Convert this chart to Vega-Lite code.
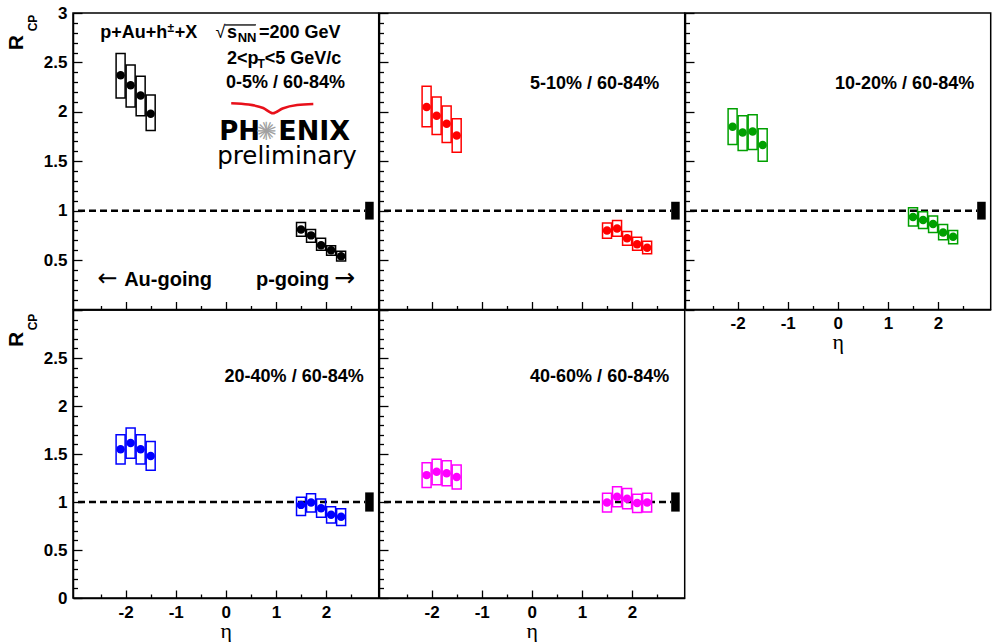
{
"$schema":"https://vega.github.io/schema/vega-lite/v6.json",
"background":"white",
"padding":{"left":5,"top":3,"right":0,"bottom":0},
"spacing":0,
"bounds":"flush",
"columns":3,
"datasets":{
"pts":[
{"panel":"p1","eta":-2.1,"r":2.37,"lo":2.14,"hi":2.59},
{"panel":"p1","eta":-1.9,"r":2.27,"lo":2.05,"hi":2.475},
{"panel":"p1","eta":-1.7,"r":2.165,"lo":1.96,"hi":2.36},
{"panel":"p1","eta":-1.5,"r":1.98,"lo":1.81,"hi":2.17},
{"panel":"p1","eta":1.5,"r":0.81,"lo":0.74,"hi":0.88},
{"panel":"p1","eta":1.7,"r":0.75,"lo":0.68,"hi":0.81},
{"panel":"p1","eta":1.9,"r":0.65,"lo":0.6,"hi":0.72},
{"panel":"p1","eta":2.1,"r":0.6,"lo":0.55,"hi":0.645},
{"panel":"p1","eta":2.3,"r":0.54,"lo":0.49,"hi":0.59},
{"panel":"p2","eta":-2.1,"r":2.05,"lo":1.85,"hi":2.26},
{"panel":"p2","eta":-1.9,"r":1.96,"lo":1.77,"hi":2.15},
{"panel":"p2","eta":-1.7,"r":1.88,"lo":1.69,"hi":2.06},
{"panel":"p2","eta":-1.5,"r":1.76,"lo":1.59,"hi":1.93},
{"panel":"p2","eta":1.5,"r":0.8,"lo":0.72,"hi":0.875},
{"panel":"p2","eta":1.7,"r":0.82,"lo":0.74,"hi":0.9},
{"panel":"p2","eta":1.9,"r":0.72,"lo":0.65,"hi":0.79},
{"panel":"p2","eta":2.1,"r":0.66,"lo":0.6,"hi":0.73},
{"panel":"p2","eta":2.3,"r":0.625,"lo":0.565,"hi":0.69},
{"panel":"p3","eta":-2.1,"r":1.85,"lo":1.67,"hi":2.03},
{"panel":"p3","eta":-1.9,"r":1.79,"lo":1.61,"hi":1.96},
{"panel":"p3","eta":-1.7,"r":1.8,"lo":1.62,"hi":1.97},
{"panel":"p3","eta":-1.5,"r":1.665,"lo":1.5,"hi":1.83},
{"panel":"p3","eta":1.5,"r":0.935,"lo":0.845,"hi":1.03},
{"panel":"p3","eta":1.7,"r":0.905,"lo":0.82,"hi":0.99},
{"panel":"p3","eta":1.9,"r":0.865,"lo":0.78,"hi":0.945},
{"panel":"p3","eta":2.1,"r":0.78,"lo":0.705,"hi":0.86},
{"panel":"p3","eta":2.3,"r":0.735,"lo":0.665,"hi":0.8},
{"panel":"p4","eta":-2.1,"r":1.55,"lo":1.395,"hi":1.7},
{"panel":"p4","eta":-1.9,"r":1.615,"lo":1.455,"hi":1.77},
{"panel":"p4","eta":-1.7,"r":1.55,"lo":1.395,"hi":1.7},
{"panel":"p4","eta":-1.5,"r":1.48,"lo":1.33,"hi":1.63},
{"panel":"p4","eta":1.5,"r":0.97,"lo":0.86,"hi":1.05},
{"panel":"p4","eta":1.7,"r":0.995,"lo":0.895,"hi":1.085},
{"panel":"p4","eta":1.9,"r":0.936,"lo":0.84,"hi":1.03},
{"panel":"p4","eta":2.1,"r":0.866,"lo":0.78,"hi":0.95},
{"panel":"p4","eta":2.3,"r":0.846,"lo":0.755,"hi":0.93},
{"panel":"p5","eta":-2.1,"r":1.28,"lo":1.15,"hi":1.41},
{"panel":"p5","eta":-1.9,"r":1.315,"lo":1.18,"hi":1.445},
{"panel":"p5","eta":-1.7,"r":1.3,"lo":1.17,"hi":1.43},
{"panel":"p5","eta":-1.5,"r":1.26,"lo":1.135,"hi":1.385},
{"panel":"p5","eta":1.5,"r":0.995,"lo":0.895,"hi":1.09},
{"panel":"p5","eta":1.7,"r":1.055,"lo":0.95,"hi":1.16},
{"panel":"p5","eta":1.9,"r":1.035,"lo":0.93,"hi":1.14},
{"panel":"p5","eta":2.1,"r":0.99,"lo":0.89,"hi":1.08},
{"panel":"p5","eta":2.3,"r":0.995,"lo":0.895,"hi":1.09}
],
"swoosh":[
{"sx":0.107,"sy":2.087},
{"sx":0.455,"sy":2.074},
{"sx":0.745,"sy":2.039},
{"sx":0.939,"sy":1.986},
{"sx":1.132,"sy":2.034},
{"sx":1.422,"sy":2.069},
{"sx":1.745,"sy":2.079}
]
},
"concat":[
{
"width":305.7,"height":296.5,
"resolve":{"axis":{"x":"independent","y":"independent"}},
"layer":[
{"data":{"values":[{}]},"mark":{"type":"rule","color":"black","strokeWidth":2.5,"strokeDash":[7,4]},"encoding":{"x":{"datum":-2.95,"type":"quantitative","axis":null},"x2":{"datum":2.78},"y":{"datum":1,"type":"quantitative","axis":null}}},
{"data":{"values":[{}]},"mark":{"type":"rect","color":"black"},"encoding":{"x":{"datum":2.78,"type":"quantitative","axis":null},"x2":{"datum":2.95},"y":{"datum":0.91,"type":"quantitative","axis":null},"y2":{"datum":1.09}}},
{"data":{"name":"pts"},"transform":[{"filter":{"field":"panel","equal":"p1"}}],"mark":{"type":"bar","orient":"vertical","width":9,"filled":false,"stroke":"black","strokeWidth":1.5},"encoding":{"x":{"field":"eta","type":"quantitative","scale":{"domain":[-2.95,2.95],"nice":false,"zero":false},"axis":{"orient":"bottom","values":[-2.5,-1.5,-0.5,0.5,1.5,2.5],"tickSize":-4,"labels":false,"domain":false,"title":null}},"y":{"field":"lo","type":"quantitative","scale":{"domain":[0,3],"nice":false,"zero":false},"axis":{"orient":"left","values":[0.1,0.2,0.3,0.4,0.6,0.7,0.8,0.9,1.1,1.2,1.3,1.4,1.6,1.7,1.8,1.9,2.1,2.2,2.3,2.4,2.6,2.7,2.8,2.9],"tickSize":-4.5,"labels":false,"domain":false,"title":null}},"y2":{"field":"hi"}}},
{"data":{"name":"pts"},"transform":[{"filter":{"field":"panel","equal":"p1"}}],"mark":{"type":"circle","size":72,"opacity":1,"color":"black"},"encoding":{"x":{"field":"eta","type":"quantitative","axis":{"orient":"bottom","values":[-2,-1,0,1,2],"tickSize":-8,"labels":false,"title":null}},"y":{"field":"r","type":"quantitative","axis":{"orient":"left","values":[0,0.5,1,1.5,2,2.5,3],"tickSize":-9,"labelPadding":15,"labelExpr":"datum.value==0?'':''+datum.value","title":null}}}},
{"data":{"name":"swoosh"},"mark":{"type":"line","color":"#e8101a","strokeWidth":2.5,"interpolate":"monotone"},"encoding":{"x":{"field":"sx","type":"quantitative","axis":null},"y":{"field":"sy","type":"quantitative","axis":null}}},
{"data":{"values":[{}]},"mark":{"type":"text","text":"p+Au+h","fontSize":18,"fontWeight":"bold","align":"left","baseline":"alphabetic"},"encoding":{"x":{"datum":-2.506,"type":"quantitative","axis":null},"y":{"datum":2.742,"type":"quantitative","axis":null}}},
{"data":{"values":[{}]},"mark":{"type":"text","text":"±","fontSize":12,"fontWeight":"bold","align":"left","baseline":"alphabetic"},"encoding":{"x":{"datum":-1.165,"type":"quantitative","axis":null},"y":{"datum":2.803,"type":"quantitative","axis":null}}},
{"data":{"values":[{}]},"mark":{"type":"text","text":"+X","fontSize":18,"fontWeight":"bold","align":"left","baseline":"alphabetic"},"encoding":{"x":{"datum":-1.02,"type":"quantitative","axis":null},"y":{"datum":2.742,"type":"quantitative","axis":null}}},
{"data":{"values":[{}]},"mark":{"type":"text","text":"√","fontSize":18,"align":"left","baseline":"alphabetic"},"encoding":{"x":{"datum":-0.209,"type":"quantitative","axis":null},"y":{"datum":2.742,"type":"quantitative","axis":null}}},
{"data":{"values":[{}]},"mark":{"type":"rule","color":"black","strokeWidth":1.3},"encoding":{"x":{"datum":-0.016,"type":"quantitative","axis":null},"x2":{"datum":0.6},"y":{"datum":2.879,"type":"quantitative","axis":null}}},
{"data":{"values":[{}]},"mark":{"type":"text","text":"s","fontSize":18,"fontWeight":"bold","align":"left","baseline":"alphabetic"},"encoding":{"x":{"datum":0.022,"type":"quantitative","axis":null},"y":{"datum":2.742,"type":"quantitative","axis":null}}},
{"data":{"values":[{}]},"mark":{"type":"text","text":"NN","fontSize":13,"fontWeight":"bold","align":"left","baseline":"alphabetic"},"encoding":{"x":{"datum":0.235,"type":"quantitative","axis":null},"y":{"datum":2.702,"type":"quantitative","axis":null}}},
{"data":{"values":[{}]},"mark":{"type":"text","text":"=200 GeV","fontSize":18,"fontWeight":"bold","align":"left","baseline":"alphabetic"},"encoding":{"x":{"datum":0.66,"type":"quantitative","axis":null},"y":{"datum":2.742,"type":"quantitative","axis":null}}},
{"data":{"values":[{}]},"mark":{"type":"text","text":"2<p","fontSize":18,"fontWeight":"bold","align":"left","baseline":"alphabetic"},"encoding":{"x":{"datum":0.022,"type":"quantitative","axis":null},"y":{"datum":2.479,"type":"quantitative","axis":null}}},
{"data":{"values":[{}]},"mark":{"type":"text","text":"T","fontSize":12,"fontWeight":"bold","align":"left","baseline":"alphabetic"},"encoding":{"x":{"datum":0.63,"type":"quantitative","axis":null},"y":{"datum":2.439,"type":"quantitative","axis":null}}},
{"data":{"values":[{}]},"mark":{"type":"text","text":"<5 GeV/c","fontSize":18,"fontWeight":"bold","align":"left","baseline":"alphabetic"},"encoding":{"x":{"datum":0.775,"type":"quantitative","axis":null},"y":{"datum":2.479,"type":"quantitative","axis":null}}},
{"data":{"values":[{}]},"mark":{"type":"text","text":"0-5% / 60-84%","fontSize":18,"fontWeight":"bold","align":"left","baseline":"alphabetic"},"encoding":{"x":{"datum":0.003,"type":"quantitative","axis":null},"y":{"datum":2.241,"type":"quantitative","axis":null}}},
{"data":{"values":[{}]},"mark":{"type":"text","text":"PH","font":"DejaVu Sans","fontSize":26,"fontWeight":"bold","align":"left","baseline":"alphabetic"},"encoding":{"x":{"datum":-0.132,"type":"quantitative","axis":null},"y":{"datum":1.72,"type":"quantitative","axis":null}}},
{"data":{"values":[{}]},"mark":{"type":"text","text":"✳","font":"DejaVu Sans","fontSize":25,"color":"#a0a0a0","align":"center","baseline":"middle"},"encoding":{"x":{"datum":0.81,"type":"quantitative","axis":null},"y":{"datum":1.801,"type":"quantitative","axis":null}}},
{"data":{"values":[{}]},"mark":{"type":"text","text":"✳","font":"DejaVu Sans","fontSize":25,"angle":22.5,"color":"#a0a0a0","align":"center","baseline":"middle"},"encoding":{"x":{"datum":0.81,"type":"quantitative","axis":null},"y":{"datum":1.801,"type":"quantitative","axis":null}}},
{"data":{"values":[{}]},"mark":{"type":"text","text":"ENIX","font":"DejaVu Sans","fontSize":27,"fontWeight":"bold","align":"left","baseline":"alphabetic"},"encoding":{"x":{"datum":1.045,"type":"quantitative","axis":null},"y":{"datum":1.72,"type":"quantitative","axis":null}}},
{"data":{"values":[{}]},"mark":{"type":"text","text":"preliminary","font":"DejaVu Sans","fontSize":24.5,"align":"left","baseline":"alphabetic"},"encoding":{"x":{"datum":-0.171,"type":"quantitative","axis":null},"y":{"datum":1.47,"type":"quantitative","axis":null}}},
{"data":{"values":[{}]},"mark":{"type":"text","text":"←","font":"DejaVu Sans","fontSize":24,"align":"left","baseline":"alphabetic"},"encoding":{"x":{"datum":-2.56,"type":"quantitative","axis":null},"y":{"datum":0.233,"type":"quantitative","axis":null}}},
{"data":{"values":[{}]},"mark":{"type":"text","text":"Au-going","fontSize":20,"fontWeight":"bold","align":"left","baseline":"alphabetic"},"encoding":{"x":{"datum":-2.029,"type":"quantitative","axis":null},"y":{"datum":0.233,"type":"quantitative","axis":null}}},
{"data":{"values":[{}]},"mark":{"type":"text","text":"p-going","fontSize":20,"fontWeight":"bold","align":"left","baseline":"alphabetic"},"encoding":{"x":{"datum":0.601,"type":"quantitative","axis":null},"y":{"datum":0.233,"type":"quantitative","axis":null}}},
{"data":{"values":[{}]},"mark":{"type":"text","text":"→","font":"DejaVu Sans","fontSize":25,"align":"left","baseline":"alphabetic"},"encoding":{"x":{"datum":2.16,"type":"quantitative","axis":null},"y":{"datum":0.233,"type":"quantitative","axis":null}}},
{"data":{"values":[{}]},"mark":{"type":"text","text":"R","fontSize":21,"fontWeight":"bold","angle":270,"align":"center","baseline":"middle"},"encoding":{"x":{"datum":-4.165,"type":"quantitative","axis":null},"y":{"datum":2.7,"type":"quantitative","axis":null}}},
{"data":{"values":[{}]},"mark":{"type":"text","text":"CP","fontSize":12,"fontWeight":"bold","angle":270,"align":"center","baseline":"middle"},"encoding":{"x":{"datum":-3.857,"type":"quantitative","axis":null},"y":{"datum":2.899,"type":"quantitative","axis":null}}}
]
},
{
"width":305.7,"height":296.5,
"resolve":{"axis":{"x":"independent","y":"independent"}},
"layer":[
{"data":{"values":[{}]},"mark":{"type":"rule","color":"black","strokeWidth":2.5,"strokeDash":[7,4]},"encoding":{"x":{"datum":-2.95,"type":"quantitative","axis":null},"x2":{"datum":2.78},"y":{"datum":1,"type":"quantitative","axis":null}}},
{"data":{"values":[{}]},"mark":{"type":"rect","color":"black"},"encoding":{"x":{"datum":2.78,"type":"quantitative","axis":null},"x2":{"datum":2.95},"y":{"datum":0.91,"type":"quantitative","axis":null},"y2":{"datum":1.09}}},
{"data":{"name":"pts"},"transform":[{"filter":{"field":"panel","equal":"p2"}}],"mark":{"type":"bar","orient":"vertical","width":9,"filled":false,"stroke":"#ff0000","strokeWidth":1.5},"encoding":{"x":{"field":"eta","type":"quantitative","scale":{"domain":[-2.95,2.95],"nice":false,"zero":false},"axis":{"orient":"bottom","values":[-2.5,-1.5,-0.5,0.5,1.5,2.5],"tickSize":-4,"labels":false,"domain":false,"title":null}},"y":{"field":"lo","type":"quantitative","scale":{"domain":[0,3],"nice":false,"zero":false},"axis":{"orient":"left","values":[0.1,0.2,0.3,0.4,0.6,0.7,0.8,0.9,1.1,1.2,1.3,1.4,1.6,1.7,1.8,1.9,2.1,2.2,2.3,2.4,2.6,2.7,2.8,2.9],"tickSize":-4.5,"labels":false,"domain":false,"title":null}},"y2":{"field":"hi"}}},
{"data":{"name":"pts"},"transform":[{"filter":{"field":"panel","equal":"p2"}}],"mark":{"type":"circle","size":72,"opacity":1,"color":"#ff0000"},"encoding":{"x":{"field":"eta","type":"quantitative","axis":{"orient":"bottom","values":[-2,-1,0,1,2],"tickSize":-8,"labels":false,"title":null}},"y":{"field":"r","type":"quantitative","axis":{"orient":"left","values":[0,0.5,1,1.5,2,2.5,3],"tickSize":-9,"labels":false,"title":null}}}},
{"data":{"values":[{}]},"mark":{"type":"text","text":"5-10% / 60-84%","fontSize":18,"fontWeight":"bold","align":"right","baseline":"alphabetic"},"encoding":{"x":{"datum":2.54,"type":"quantitative","axis":null},"y":{"datum":2.236,"type":"quantitative","axis":null}}}
]
},
{
"width":305.7,"height":296.5,
"resolve":{"axis":{"x":"independent","y":"independent"}},
"layer":[
{"data":{"values":[{}]},"mark":{"type":"rule","color":"black","strokeWidth":2.5,"strokeDash":[7,4]},"encoding":{"x":{"datum":-2.95,"type":"quantitative","axis":null},"x2":{"datum":2.78},"y":{"datum":1,"type":"quantitative","axis":null}}},
{"data":{"values":[{}]},"mark":{"type":"rect","color":"black"},"encoding":{"x":{"datum":2.78,"type":"quantitative","axis":null},"x2":{"datum":2.95},"y":{"datum":0.91,"type":"quantitative","axis":null},"y2":{"datum":1.09}}},
{"data":{"name":"pts"},"transform":[{"filter":{"field":"panel","equal":"p3"}}],"mark":{"type":"bar","orient":"vertical","width":9,"filled":false,"stroke":"#00a000","strokeWidth":1.5},"encoding":{"x":{"field":"eta","type":"quantitative","scale":{"domain":[-2.95,2.95],"nice":false,"zero":false},"axis":{"orient":"bottom","values":[-2.5,-1.5,-0.5,0.5,1.5,2.5],"tickSize":-4,"labels":false,"domain":false,"title":null}},"y":{"field":"lo","type":"quantitative","scale":{"domain":[0,3],"nice":false,"zero":false},"axis":{"orient":"left","values":[0.1,0.2,0.3,0.4,0.6,0.7,0.8,0.9,1.1,1.2,1.3,1.4,1.6,1.7,1.8,1.9,2.1,2.2,2.3,2.4,2.6,2.7,2.8,2.9],"tickSize":-4.5,"labels":false,"domain":false,"title":null}},"y2":{"field":"hi"}}},
{"data":{"name":"pts"},"transform":[{"filter":{"field":"panel","equal":"p3"}}],"mark":{"type":"circle","size":72,"opacity":1,"color":"#00a000"},"encoding":{"x":{"field":"eta","type":"quantitative","axis":{"orient":"bottom","values":[-2,-1,0,1,2],"tickSize":-8,"labelPadding":14,"labelExpr":"''+datum.value","title":"η","titlePadding":0}},"y":{"field":"r","type":"quantitative","axis":{"orient":"left","values":[0,0.5,1,1.5,2,2.5,3],"tickSize":-9,"labels":false,"title":null}}}},
{"data":{"values":[{}]},"mark":{"type":"text","text":"10-20% / 60-84%","fontSize":18,"fontWeight":"bold","align":"right","baseline":"alphabetic"},"encoding":{"x":{"datum":2.72,"type":"quantitative","axis":null},"y":{"datum":2.236,"type":"quantitative","axis":null}}}
]
},
{
"width":305.7,"height":288,
"resolve":{"axis":{"x":"independent","y":"independent"}},
"layer":[
{"data":{"values":[{}]},"mark":{"type":"rule","color":"black","strokeWidth":2.5,"strokeDash":[7,4]},"encoding":{"x":{"datum":-2.95,"type":"quantitative","axis":null},"x2":{"datum":2.78},"y":{"datum":1,"type":"quantitative","axis":null}}},
{"data":{"values":[{}]},"mark":{"type":"rect","color":"black"},"encoding":{"x":{"datum":2.78,"type":"quantitative","axis":null},"x2":{"datum":2.95},"y":{"datum":0.9,"type":"quantitative","axis":null},"y2":{"datum":1.1}}},
{"data":{"name":"pts"},"transform":[{"filter":{"field":"panel","equal":"p4"}}],"mark":{"type":"bar","orient":"vertical","width":9,"filled":false,"stroke":"#0000ff","strokeWidth":1.5},"encoding":{"x":{"field":"eta","type":"quantitative","scale":{"domain":[-2.95,2.95],"nice":false,"zero":false},"axis":{"orient":"bottom","values":[-2.5,-1.5,-0.5,0.5,1.5,2.5],"tickSize":-4,"labels":false,"domain":false,"title":null}},"y":{"field":"lo","type":"quantitative","scale":{"domain":[0,3],"nice":false,"zero":false},"axis":{"orient":"left","values":[0.1,0.2,0.3,0.4,0.6,0.7,0.8,0.9,1.1,1.2,1.3,1.4,1.6,1.7,1.8,1.9,2.1,2.2,2.3,2.4,2.6,2.7,2.8,2.9],"tickSize":-4.5,"labels":false,"domain":false,"title":null}},"y2":{"field":"hi"}}},
{"data":{"name":"pts"},"transform":[{"filter":{"field":"panel","equal":"p4"}}],"mark":{"type":"circle","size":72,"opacity":1,"color":"#0000ff"},"encoding":{"x":{"field":"eta","type":"quantitative","axis":{"orient":"bottom","values":[-2,-1,0,1,2],"tickSize":-8,"labelPadding":14,"labelExpr":"''+datum.value","title":"η","titlePadding":0}},"y":{"field":"r","type":"quantitative","axis":{"orient":"left","values":[0,0.5,1,1.5,2,2.5,3],"tickSize":-9,"labelPadding":15,"labelExpr":"datum.value==3?'':''+datum.value","title":null}}}},
{"data":{"values":[{}]},"mark":{"type":"text","text":"20-40% / 60-84%","fontSize":18,"fontWeight":"bold","align":"right","baseline":"alphabetic"},"encoding":{"x":{"datum":2.75,"type":"quantitative","axis":null},"y":{"datum":2.25,"type":"quantitative","axis":null}}},
{"data":{"values":[{}]},"mark":{"type":"text","text":"R","fontSize":21,"fontWeight":"bold","angle":270,"align":"center","baseline":"middle"},"encoding":{"x":{"datum":-4.165,"type":"quantitative","axis":null},"y":{"datum":2.693,"type":"quantitative","axis":null}}},
{"data":{"values":[{}]},"mark":{"type":"text","text":"CP","fontSize":12,"fontWeight":"bold","angle":270,"align":"center","baseline":"middle"},"encoding":{"x":{"datum":-3.857,"type":"quantitative","axis":null},"y":{"datum":2.875,"type":"quantitative","axis":null}}}
]
},
{
"width":305.7,"height":288,
"resolve":{"axis":{"x":"independent","y":"independent"}},
"layer":[
{"data":{"values":[{}]},"mark":{"type":"rule","color":"black","strokeWidth":2.5,"strokeDash":[7,4]},"encoding":{"x":{"datum":-2.95,"type":"quantitative","axis":null},"x2":{"datum":2.78},"y":{"datum":1,"type":"quantitative","axis":null}}},
{"data":{"values":[{}]},"mark":{"type":"rect","color":"black"},"encoding":{"x":{"datum":2.78,"type":"quantitative","axis":null},"x2":{"datum":2.95},"y":{"datum":0.9,"type":"quantitative","axis":null},"y2":{"datum":1.1}}},
{"data":{"name":"pts"},"transform":[{"filter":{"field":"panel","equal":"p5"}}],"mark":{"type":"bar","orient":"vertical","width":9,"filled":false,"stroke":"#ff00ff","strokeWidth":1.5},"encoding":{"x":{"field":"eta","type":"quantitative","scale":{"domain":[-2.95,2.95],"nice":false,"zero":false},"axis":{"orient":"bottom","values":[-2.5,-1.5,-0.5,0.5,1.5,2.5],"tickSize":-4,"labels":false,"domain":false,"title":null}},"y":{"field":"lo","type":"quantitative","scale":{"domain":[0,3],"nice":false,"zero":false},"axis":{"orient":"left","values":[0.1,0.2,0.3,0.4,0.6,0.7,0.8,0.9,1.1,1.2,1.3,1.4,1.6,1.7,1.8,1.9,2.1,2.2,2.3,2.4,2.6,2.7,2.8,2.9],"tickSize":-4.5,"labels":false,"domain":false,"title":null}},"y2":{"field":"hi"}}},
{"data":{"name":"pts"},"transform":[{"filter":{"field":"panel","equal":"p5"}}],"mark":{"type":"circle","size":72,"opacity":1,"color":"#ff00ff"},"encoding":{"x":{"field":"eta","type":"quantitative","axis":{"orient":"bottom","values":[-2,-1,0,1,2],"tickSize":-8,"labelPadding":14,"labelExpr":"''+datum.value","title":"η","titlePadding":0}},"y":{"field":"r","type":"quantitative","axis":{"orient":"left","values":[0,0.5,1,1.5,2,2.5,3],"tickSize":-9,"labels":false,"title":null}}}},
{"data":{"values":[{}]},"mark":{"type":"text","text":"40-60% / 60-84%","fontSize":18,"fontWeight":"bold","align":"right","baseline":"alphabetic"},"encoding":{"x":{"datum":2.74,"type":"quantitative","axis":null},"y":{"datum":2.25,"type":"quantitative","axis":null}}}
]
}
],
"config":{
"view":{"stroke":"black","strokeWidth":1.5},
"axis":{"grid":false,"domainColor":"black","domainWidth":1.5,"tickColor":"black","tickWidth":1.3,"labelColor":"black","labelFont":"Liberation Sans","labelFontWeight":"bold","labelFontSize":17,"titleFont":"Liberation Serif","titleFontWeight":"normal","titleFontSize":22,"titleColor":"black"},
"text":{"font":"Liberation Sans","color":"black"}
}
}
